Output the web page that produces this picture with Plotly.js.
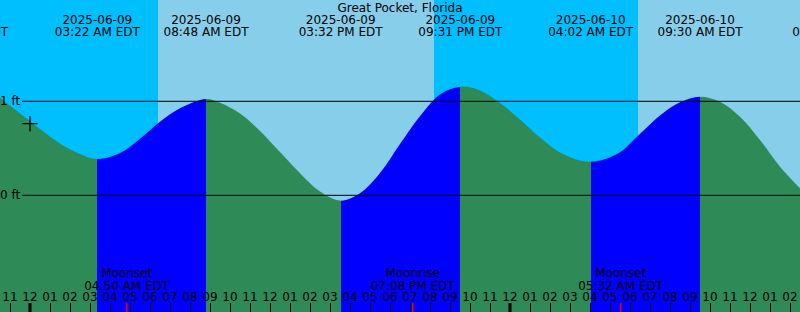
<!DOCTYPE html>
<html><head><meta charset="utf-8">
<script src="https://cdn.plot.ly/plotly-3.0.1.min.js"></script>
<style>html,body{margin:0;padding:0;background:#fff}#chart{width:800px;height:312px}</style>
</head><body><div id="chart"></div>
<script>
const stationName = 'Great Pocket, Florida';

// tide height readings (ft), including the high/low extremes
const tideTimes = [
  '2025-06-08 22:30','2025-06-08 23:30','2025-06-09 00:30','2025-06-09 01:30','2025-06-09 02:30','2025-06-09 03:22',
  '2025-06-09 04:30','2025-06-09 05:30','2025-06-09 06:30','2025-06-09 07:30','2025-06-09 08:48',
  '2025-06-09 09:30','2025-06-09 10:30','2025-06-09 11:30','2025-06-09 12:30','2025-06-09 13:30','2025-06-09 14:30','2025-06-09 15:32',
  '2025-06-09 16:30','2025-06-09 17:30','2025-06-09 18:30','2025-06-09 19:30','2025-06-09 20:30','2025-06-09 21:31',
  '2025-06-09 22:30','2025-06-09 23:30','2025-06-10 00:30','2025-06-10 01:30','2025-06-10 02:30','2025-06-10 03:30','2025-06-10 04:02',
  '2025-06-10 04:30','2025-06-10 05:30','2025-06-10 06:30','2025-06-10 07:30','2025-06-10 08:30','2025-06-10 09:30',
  '2025-06-10 10:30','2025-06-10 11:30','2025-06-10 12:30','2025-06-10 13:30','2025-06-10 14:30'
];
const tideHeights = [
  1.035, 0.872, 0.705, 0.552, 0.440, 0.386,
  0.449, 0.602, 0.782, 0.925, 1.024,
  0.985, 0.870, 0.685, 0.460, 0.235, 0.040, -0.057,
  0.021, 0.236, 0.545, 0.840, 1.072, 1.155,
  1.116, 0.983, 0.806, 0.614, 0.455, 0.369, 0.357,
  0.369, 0.458, 0.655, 0.850, 0.990, 1.049,
  0.996, 0.836, 0.588, 0.304, 0.074
];

// high / low tide labels
const extremeTimes = ['2025-06-08 20:48','2025-06-09 03:22','2025-06-09 08:48','2025-06-09 15:32','2025-06-09 21:31','2025-06-10 04:02','2025-06-10 09:30','2025-06-10 16:13'];
const extremeDates = ['2025-06-08','2025-06-09','2025-06-09','2025-06-09','2025-06-09','2025-06-10','2025-06-10','2025-06-10'];
const extremeClock = ['08:48 PM EDT','03:22 AM EDT','08:48 AM EDT','03:32 PM EDT','09:31 PM EDT','04:02 AM EDT','09:30 AM EDT','04:13 PM EDT'];

// moon events
const moonTimes = ['2025-06-09 04:50','2025-06-09 19:08','2025-06-10 05:32'];
const moonNames = ['Moonset','Moonrise','Moonset'];
const moonClock = ['04:50 AM EDT','07:08 PM EDT','05:32 AM EDT'];

// sun: night / day intervals
const nightStarts = ['2025-06-08 12:00','2025-06-09 20:12'];
const nightEnds   = ['2025-06-09 06:24','2025-06-10 06:24'];
const dayStarts   = ['2025-06-09 06:24','2025-06-10 06:24'];
const dayEnds     = ['2025-06-09 20:12','2025-06-10 20:00'];

const midnights = ['2025-06-09 00:00','2025-06-10 00:00'];
const levelValues = [0, 1];
const levelLabels = ['0 ft', '1 ft'];
const nowTime = '2025-06-09 00:00';
const nowHeight = 0.762;

const xRange = ['2025-06-08 22:30','2025-06-10 14:30'];
const firstHour = '2025-06-08 23:00', lastHour = '2025-06-10 14:00';

// ---------- build ----------
const H = 312, PXFT = 94, ZERO_PX = 195.3;
const pxToFt = p => (ZERO_PX - p) / PXFT;
const yRange = [pxToFt(H), pxToFt(0)];
const FONT = {family: 'DejaVu Sans', size: 12, color: '#000'};
const FALL = '#2E8B57', RISE = '#0000FF';

function pad(n){return (n<10?'0':'')+n;}
const parseT = s => { const [a,b] = s.split(' '); const [y,m,d] = a.split('-').map(Number); const [hh,mm] = b.split(':').map(Number); return new Date(y,m-1,d,hh,mm); };
function fmt(d){return d.getFullYear()+'-'+pad(d.getMonth()+1)+'-'+pad(d.getDate())+' '+pad(d.getHours())+':'+pad(d.getMinutes());}
const hourTimes = [], hourLabels = [];
for (let d = parseT(firstHour); d <= parseT(lastHour); d = new Date(d.getTime()+3600000)) {
  hourTimes.push(fmt(d));
  const h12 = d.getHours() % 12 === 0 ? 12 : d.getHours() % 12;
  hourLabels.push(pad(h12));
}

// rising / falling fill colours via a hard-stop horizontal gradient
const t0 = parseT(tideTimes[0]).getTime(), t1 = parseT(tideTimes[tideTimes.length-1]).getTime();
const frac = s => (parseT(s).getTime() - t0) / (t1 - t0);
const scale = [];
{
  let dir = Math.sign(tideHeights[1] - tideHeights[0]);
  let col = dir > 0 ? RISE : FALL;
  scale.push([0, col]);
  for (let i = 1; i < tideHeights.length - 1; i++) {
    const nd = Math.sign(tideHeights[i+1] - tideHeights[i]);
    if (nd !== dir) {
      const f = frac(tideTimes[i]);
      scale.push([f, col]);
      dir = nd; col = dir > 0 ? RISE : FALL;
      scale.push([f, col]);
    }
  }
  scale.push([1, col]);
}

const traces = [];
traces.push({x:[tideTimes[0], tideTimes[tideTimes.length-1]], y:[-3,-3], mode:'lines', line:{width:0}, hoverinfo:'skip', showlegend:false});
traces.push({x:tideTimes, y:tideHeights, mode:'lines', line:{width:0, shape:'spline', smoothing:1}, fill:'tonexty',
  fillgradient:{type:'horizontal', colorscale:scale}, hoverinfo:'skip', showlegend:false});

traces.push({x:[nowTime], y:[nowHeight], mode:'markers', marker:{symbol:'cross-thin', size:11, line:{width:1.3, color:'#000'}}, showlegend:false});

const textTrace = (xs, yPx, txt) => ({x:xs, y:xs.map(()=>pxToFt(yPx)), mode:'text', text:txt, textposition:'middle center', textfont:FONT, cliponaxis:true, showlegend:false, hoverinfo:'skip'});
traces.push(textTrace(extremeTimes, 20.5, extremeDates));
traces.push(textTrace(extremeTimes, 33, extremeClock));
traces.push(textTrace(moonTimes, 273.5, moonNames));
traces.push(textTrace(moonTimes, 286.5, moonClock));
traces.push(textTrace(hourTimes, 297.5, hourLabels));

const shapes = [];
nightStarts.forEach((s,i)=>shapes.push({type:'rect', xref:'x', yref:'paper', x0:s, x1:nightEnds[i], y0:0, y1:1, fillcolor:'#00BFFF', line:{width:0}, layer:'below'}));
dayStarts.forEach((s,i)=>shapes.push({type:'rect', xref:'x', yref:'paper', x0:s, x1:dayEnds[i], y0:0, y1:1, fillcolor:'#87CEEB', line:{width:0}, layer:'below'}));
levelValues.forEach(v=>shapes.push({type:'line', xref:'paper', yref:'y', x0:22/800, x1:1, y0:v, y1:v, line:{color:'#000', width:1}, layer:'above'}));
midnights.forEach(t=>shapes.push({type:'line', xref:'x', yref:'paper', x0:t, x1:t, y0:0, y1:9/H, line:{color:'#000', width:3}, layer:'above'}));
moonTimes.forEach(t=>shapes.push({type:'line', xref:'x', yref:'paper', x0:t, x1:t, y0:0, y1:9/H, line:{color:'#FF0000', width:1.5}, layer:'above'}));

const annotations = levelValues.map((v,i)=>({xref:'paper', yref:'y', x:21.5/800, y:v, xanchor:'right', yanchor:'middle', text:levelLabels[i], showarrow:false, font:FONT}));

const layout = {
  width: 800, height: 312,
  margin: {l:0, r:0, t:0, b:0, pad:0},
  paper_bgcolor: '#87CEEB', plot_bgcolor: '#87CEEB',
  title: {text: stationName, font: FONT, x:0.5, xanchor:'center', xref:'paper', y: 1 - 7.5/H, yref:'container', yanchor:'middle'},
  xaxis: {type:'date', range:xRange, autorange:false, ticks:'inside', ticklen:9, tickwidth:1, tickcolor:'#000',
    dtick:3600000, tick0:firstHour, showticklabels:false, showgrid:false, zeroline:false, showline:false, fixedrange:true},
  yaxis: {range:yRange, autorange:false, visible:false, showgrid:false, zeroline:false, fixedrange:true},
  shapes, annotations, showlegend:false, hovermode:false
};
Plotly.newPlot('chart', traces, layout, {staticPlot:true, displayModeBar:false});
</script></body></html>
